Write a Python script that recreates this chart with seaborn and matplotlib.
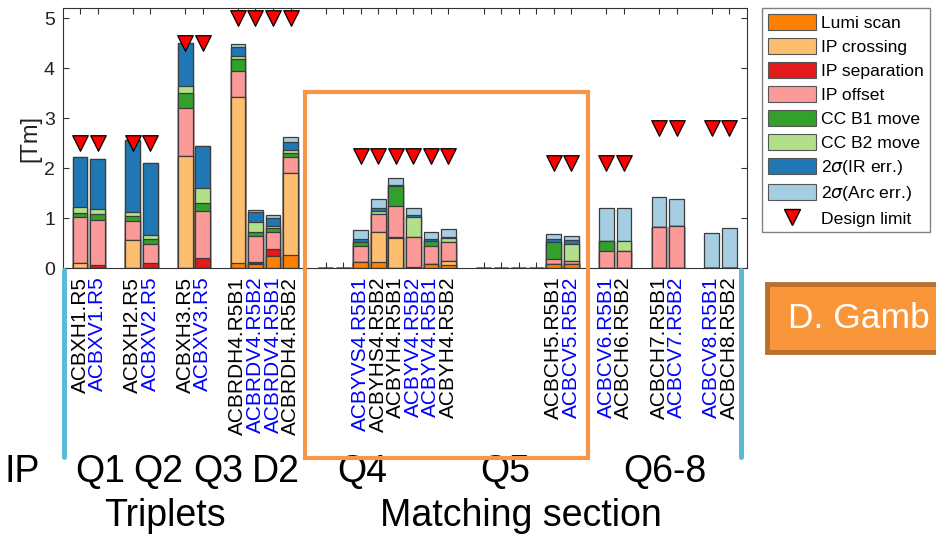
import numpy as np
import pandas as pd
import matplotlib
matplotlib.use("Agg")
import matplotlib.pyplot as plt
import seaborn as sns
from matplotlib.patches import Patch, Rectangle
from matplotlib.lines import Line2D

# ---------------- data ----------------
slots = [0, 1, 3, 4, 6, 7, 9, 10, 11, 12, 14, 15, 16, 17, 18, 19, 20, 21,
         23, 24, 25, 26, 27, 28, 30, 31, 33, 34, 36, 37]
names = ["ACBXH1.R5", "ACBXV1.R5", "ACBXH2.R5", "ACBXV2.R5", "ACBXH3.R5", "ACBXV3.R5",
         "ACBRDH4.R5B1", "ACBRDV4.R5B2", "ACBRDV4.R5B1", "ACBRDH4.R5B2", "", "",
         "ACBYVS4.R5B1", "ACBYHS4.R5B2", "ACBYH4.R5B1", "ACBYV4.R5B2", "ACBYV4.R5B1", "ACBYH4.R5B2",
         "", "", "", "", "ACBCH5.R5B1", "ACBCV5.R5B2", "ACBCV6.R5B1", "ACBCH6.R5B2",
         "ACBCH7.R5B1", "ACBCV7.R5B2", "ACBCV8.R5B1", "ACBCH8.R5B2"]

lumi_scan   = [0.01, 0.00, 0.00, 0.00, 0.00, 0.00, 0.10, 0.08, 0.25, 0.27, 0, 0,
               0.12, 0.12, 0.01, 0.00, 0.08, 0.07, 0, 0, 0, 0, 0.08, 0.08, 0, 0, 0, 0, 0, 0]
ip_crossing = [0.09, 0.01, 0.57, 0.00, 2.25, 0.00, 3.32, 0.02, 0.00, 1.63, 0, 0,
               0.00, 0.60, 0.60, 0.00, 0.00, 0.08, 0, 0, 0, 0, 0.00, 0.00, 0, 0, 0, 0, 0, 0]
ip_separation = [0.00, 0.06, 0.00, 0.11, 0.00, 0.20, 0.00, 0.03, 0.13, 0.00, 0, 0,
                 0.00, 0.00, 0.01, 0.03, 0.00, 0.00, 0, 0, 0, 0, 0.00, 0.00, 0, 0, 0, 0, 0, 0]
ip_offset   = [0.92, 0.90, 0.38, 0.38, 0.95, 0.95, 0.53, 0.52, 0.34, 0.33, 0, 0,
               0.33, 0.37, 0.63, 0.60, 0.37, 0.37, 0, 0, 0, 0, 0.10, 0.07, 0.35, 0.35, 0.83, 0.85, 0, 0]
cc_b1_move  = [0.09, 0.11, 0.10, 0.09, 0.30, 0.15, 0.23, 0.08, 0.08, 0.07, 0, 0,
               0.08, 0.00, 0.40, 0.00, 0.10, 0.00, 0, 0, 0, 0, 0.35, 0.00, 0.20, 0.00, 0, 0, 0, 0]
cc_b2_move  = [0.11, 0.10, 0.08, 0.09, 0.15, 0.31, 0.07, 0.20, 0.05, 0.07, 0, 0,
               0.00, 0.06, 0.00, 0.40, 0.00, 0.08, 0, 0, 0, 0, 0.00, 0.34, 0.00, 0.20, 0, 0, 0, 0]
ir_err      = [1.00, 1.00, 1.44, 1.43, 0.85, 0.84, 0.18, 0.19, 0.15, 0.16, 0, 0,
               0.05, 0.05, 0.02, 0.03, 0.03, 0.03, 0, 0, 0, 0, 0.06, 0.08, 0, 0, 0, 0, 0, 0]
arc_err     = [0.00, 0.00, 0.00, 0.00, 0.00, 0.00, 0.05, 0.05, 0.06, 0.09, 0, 0,
               0.19, 0.18, 0.14, 0.15, 0.15, 0.16, 0, 0, 0, 0, 0.09, 0.08, 0.65, 0.65, 0.59, 0.53, 0.70, 0.80]
design_limit = [2.5, 2.5, 2.5, 2.5, 4.5, 4.5, 5.0, 5.0, 5.0, 5.0, np.nan, np.nan,
                2.25, 2.25, 2.25, 2.25, 2.25, 2.25, np.nan, np.nan, np.nan, np.nan,
                2.1, 2.1, 2.1, 2.1, 2.8, 2.8, 2.8, 2.8]

layer_names = ["Lumi scan", "IP crossing", "IP separation", "IP offset",
               "CC B1 move", "CC B2 move", r"2$\sigma$(IR err.)", r"2$\sigma$(Arc err.)"]
layer_vals = [lumi_scan, ip_crossing, ip_separation, ip_offset,
              cc_b1_move, cc_b2_move, ir_err, arc_err]
layer_colors = ["#ff7f00", "#fdbf6f", "#e31a1c", "#fb9a99",
                "#33a02c", "#b2df8a", "#1f78b4", "#a6cee3"]

group_labels = ["IP", "Q1", "Q2", "Q3", "D2", "Q4", "Q5", "Q6-8"]
section_labels = ["Triplets", "Matching section"]

# ---------------- figure ----------------
sns.set_theme(style="ticks")
plt.rcParams["font.family"] = ["Liberation Sans", "DejaVu Sans"]
plt.rcParams["mathtext.fontset"] = "dejavusans"
for key in ["text.color", "axes.labelcolor", "xtick.color", "ytick.color"]:
    plt.rcParams[key] = "black"

W, H = 937, 537
fig = plt.figure(figsize=(W / 100, H / 100), dpi=100)
ax = fig.add_axes([63.3 / W, 1 - 268.3 / H, (746.7 - 63.3) / W, (268.3 - 8.3) / H])

df = pd.DataFrame({"pos": slots})
cum = np.zeros(len(slots))
cums = []
for v in layer_vals:
    cum = cum + np.array(v)
    cums.append(cum.copy())
for k in range(len(layer_vals) - 1, -1, -1):
    df["top"] = cums[k]
    sns.barplot(data=df, x="pos", y="top", native_scale=True, width=0.84,
                color=layer_colors[k], saturation=1, errorbar=None,
                edgecolor="#3c3c3c", linewidth=0.9, ax=ax)

dl = pd.DataFrame({"pos": slots, "limit": design_limit}).dropna()
sns.scatterplot(data=dl, x="pos", y="limit", marker="v", s=125, color="#ff0000",
                edgecolor="black", linewidth=0.9, ax=ax, zorder=5, legend=False)

ax.set_xlim(-0.95, 38.0)
ax.set_ylim(0, 5.2)
ax.set_yticks([0, 1, 2, 3, 4, 5])
ax.set_xticks(slots)
ax.set_xticklabels(names, rotation=90, fontsize=15, va="top", ha="center")
for lab, n in zip(ax.get_xticklabels(), names):
    lab.set_color("#0000ff" if "V" in n.split(".")[0] else "black")
ax.tick_params(axis="both", direction="in", top=True, right=True, length=4, width=0.8,
               color="#333333")
ax.tick_params(axis="y", labelsize=14, pad=6, labelcolor="#222222")
ax.tick_params(axis="x", pad=6)
ax.set_xlabel("")
ax.set_ylabel("[Tm]", fontsize=17, labelpad=2, color="#222222")
for s in ax.spines.values():
    s.set_color("#333333")
    s.set_linewidth(0.8)

# legend
handles = [Patch(facecolor=c, edgecolor="#555555", linewidth=0.8) for c in layer_colors]
handles.append(Line2D([], [], marker="v", ls="", color="#ff0000", mec="black", ms=11))
fig.legend(handles, layer_names + ["Design limit"], loc="upper left",
           bbox_to_anchor=(762 / W, 1 - 8 / H), borderaxespad=0, fontsize=12.6,
           handlelength=2.75, handleheight=1.06, labelspacing=0.39, handletextpad=0.3,
           borderpad=0.33, fancybox=False, edgecolor="#808080", framealpha=1)

# decorations
fig.add_artist(Line2D([64.5 / W, 64.5 / W], [1 - 270 / H, 1 - 457 / H], color="#5bbad8",
                      lw=3.6, transform=fig.transFigure))
fig.add_artist(Line2D([741 / W, 741 / W], [1 - 270 / H, 1 - 457 / H], color="#5bbad8",
                      lw=3.6, transform=fig.transFigure))
fig.add_artist(Rectangle((305 / W, 1 - 458 / H), (587.5 - 305) / W, (458 - 92) / H,
                         fill=False, edgecolor="#f79646", lw=3.0, transform=fig.transFigure,
                         zorder=10))
fig.add_artist(Rectangle((767 / W, 1 - 352 / H), 0.3, (352 - 284) / H,
                         facecolor="#f9963a", edgecolor="#b8702e", lw=3.5,
                         transform=fig.transFigure))
fig.text(788 / W, 1 - 318 / H, "D. Gamb", color="white", fontsize=25.5, ha="left", va="center")

gx = [22, 100, 158, 218, 276, 362, 505, 665]
for x, t in zip(gx, group_labels):
    fig.text(x / W, 1 - 472 / H, t, fontsize=27, ha="center", va="center")
for x, t in zip([165, 521], section_labels):
    fig.text(x / W, 1 - 516 / H, t, fontsize=27, ha="center", va="center")

fig.savefig("out.png", dpi=100)
